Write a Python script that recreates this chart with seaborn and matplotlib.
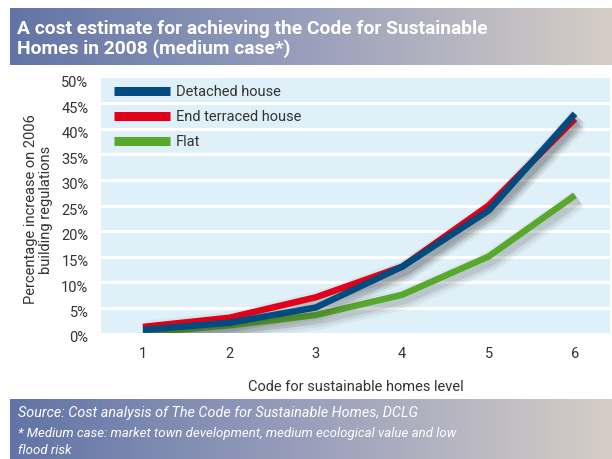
import numpy as np
import pandas as pd
import matplotlib
matplotlib.use("Agg")
import matplotlib.pyplot as plt
import matplotlib.patheffects as pe
from matplotlib.lines import Line2D
import seaborn as sns

# Code level on the x axis
levels = [1, 2, 3, 4, 5, 6]
# Percentage increase on 2006 building regulations
detached = [0.6, 2, 5, 13, 24, 43]
end_terraced = [1.2, 3, 7, 13, 25, 42]
flat = [0, 1.5, 3.5, 7.5, 15, 27]

series_names = ["Detached house", "End terraced house", "Flat"]
colors = {"Detached house": "#004b7f", "End terraced house": "#e2001a", "Flat": "#58a82b"}
y_ticks = [0, 5, 10, 15, 20, 25, 30, 35, 40, 45, 50]
y_tick_labels = [f"{t}%" for t in y_ticks]

df = pd.DataFrame({
    "level": levels * 3,
    "value": detached + end_terraced + flat,
    "series": ["Detached house"] * 6 + ["End terraced house"] * 6 + ["Flat"] * 6,
})

sns.set_theme(style="white")
plt.rcParams["font.family"] = ["Roboto", "DejaVu Sans"]

fig = plt.figure(figsize=(6.12, 4.59), dpi=100)
W, H = 612, 459
TXT = "#333333"

# Gradient banners for the heading and the source note
grad = np.linspace(0, 1, 256).reshape(1, -1)
cmap = matplotlib.colors.LinearSegmentedColormap.from_list(
    "banner", ["#6274a6", "#9aa0bc", "#d6cdc6"])
for rect in ([10 / W, 1 - 65 / H, 602 / W, 57 / H],
             [10 / W, 0, 602 / W, 60 / H]):
    bax = fig.add_axes(rect)
    bax.imshow(grad, aspect="auto", cmap=cmap, extent=[0, 1, 0, 1])
    bax.set_axis_off()

fig.text(17 / W, 1 - 39 / H,
         "A cost estimate for achieving the Code for Sustainable\nHomes in 2008 (medium case*)",
         color="white", fontsize=13.9, fontweight="bold", va="center", ha="left",
         linespacing=1.1)
fig.text(18 / W, 1 - 413 / H,
         "Source: Cost analysis of The Code for Sustainable Homes, DCLG",
         color="white", fontsize=10.35, style="italic", va="center", ha="left")
fig.text(18 / W, 1 - 442 / H,
         "* Medium case: market town development, medium ecological value and low\n"
         "flood risk",
         color="white", fontsize=9.5, style="italic", va="center", ha="left",
         linespacing=1.45)

rect = [101 / W, 1 - 333 / H, 509 / W, 255 / H]
ax = fig.add_axes(rect)
ax.set_facecolor("#dff0f8")

shadow = [pe.SimpleLineShadow(offset=(2.5, -3), shadow_color="#333333", alpha=a, linewidth=w)
          for a, w in ((0.05, 15), (0.07, 11), (0.11, 7))] + [pe.Normal()]

sns.lineplot(data=df, x="level", y="value", hue="series",
             hue_order=["Flat", "End terraced house", "Detached house"],
             palette=colors, linewidth=4.6, ax=ax, legend=False,
             solid_capstyle="butt", solid_joinstyle="miter")
for ln in ax.get_lines():
    ln.set_path_effects(shadow)
    ln.set_zorder(3)

ax.set_xlim(0.515, 6.405)
ax.set_ylim(0, 50)
ax.set_xticks(levels)
ax.set_xticklabels([str(l) for l in levels])
ax.set_yticks(y_ticks)
ax.set_yticklabels([])
ax.set_ylabel("")
ax.tick_params(axis="both", length=0, labelsize=10.5, colors=TXT)
ax.tick_params(axis="x", pad=10)
for s in ax.spines.values():
    s.set_visible(False)
ax.grid(False)
for t in y_ticks[1:-1]:
    ax.axhline(t, color="white", linewidth=2.2, zorder=1)

# Percent labels sit slightly below their gridlines
lax = fig.add_axes([rect[0], rect[1] - 4 / H, rect[2], rect[3]])
lax.set_ylim(0, 50)
lax.patch.set_visible(False)
for s in lax.spines.values():
    s.set_visible(False)
lax.set_xticks([])
lax.set_yticks(y_ticks)
lax.set_yticklabels(y_tick_labels)
lax.tick_params(axis="y", length=0, labelsize=10.5, colors=TXT, pad=9)
lax.set_ylabel("Percentage increase on 2006\nbuilding regulations", fontsize=10.5,
               color=TXT, labelpad=6, linespacing=1.1)

ax.set_xlabel("Code for sustainable homes level", fontsize=10.5, color=TXT, labelpad=14)

handles = [Line2D([0], [0], color=colors[n], linewidth=6.5, solid_capstyle="butt") for n in series_names]
leg = ax.legend(handles, series_names, loc="upper left", bbox_to_anchor=(0.0, 1.025),
                frameon=False, fontsize=10.5, handlelength=3.8, handletextpad=0.45,
                labelspacing=0.75, borderaxespad=0.5)
for t in leg.get_texts():
    t.set_color(TXT)

fig.savefig("out.png", dpi=100)
